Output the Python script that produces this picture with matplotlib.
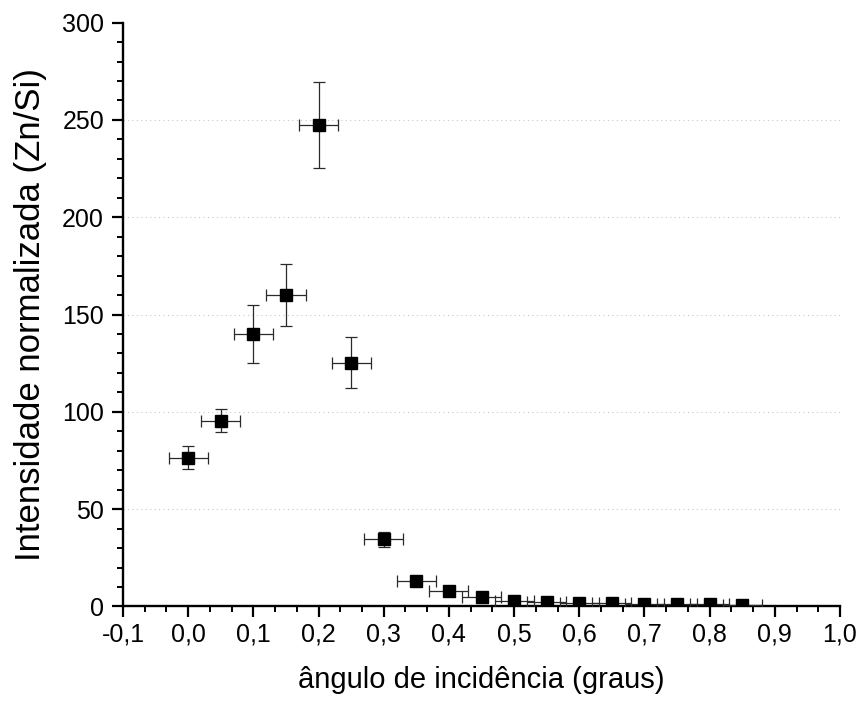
import matplotlib
matplotlib.use("Agg")
import matplotlib.pyplot as plt
import numpy as np
from matplotlib.ticker import MultipleLocator, AutoMinorLocator, FuncFormatter

plt.rcParams['font.family'] = ['Liberation Sans', 'DejaVu Sans']

# angle of incidence (degrees) and normalized Zn/Si intensity
angulo = [0.0, 0.05, 0.10, 0.15, 0.20, 0.25, 0.30, 0.35, 0.40, 0.45,
          0.50, 0.55, 0.60, 0.65, 0.70, 0.75, 0.80, 0.85]
intensidade = [76.5, 95.5, 140.0, 160.0, 247.5, 125.3, 34.5, 13.1, 8.0, 4.7,
               2.6, 2.1, 1.8, 1.6, 1.4, 1.3, 1.1, 0.9]
erro_y = [6.0, 6.0, 15.0, 16.0, 22.0, 13.0, 4.0, 1.3, 0.8, 0.5,
          0.3, 0.2, 0.2, 0.2, 0.1, 0.1, 0.1, 0.1]
erro_x = 0.03

fig = plt.figure(figsize=(8.64, 7.08), dpi=100)
ax = fig.add_axes([0.1424, 0.1434, 0.9722 - 0.1424, 0.968 - 0.1434])

ax.errorbar(angulo, intensidade, xerr=erro_x, yerr=erro_y, fmt='s',
            color='black', ecolor='#2a2a2a', elinewidth=0.9, capsize=4,
            capthick=0.9, markersize=8, zorder=3)

ax.set_xlim(-0.1, 1.0)
ax.set_ylim(0, 300)

ax.xaxis.set_major_locator(MultipleLocator(0.1))
ax.xaxis.set_minor_locator(AutoMinorLocator(3))
ax.yaxis.set_major_locator(MultipleLocator(50))
ax.yaxis.set_minor_locator(AutoMinorLocator(5))

ax.xaxis.set_major_formatter(FuncFormatter(lambda v, p: f"{v:.1f}".replace('.', ',').replace('-0,0', '0,0')))

for side in ('top', 'right'):
    ax.spines[side].set_visible(False)
for side in ('left', 'bottom'):
    ax.spines[side].set_linewidth(1.7)

ax.tick_params(which='major', direction='out', length=7.7, width=1.6, labelsize=18)
ax.tick_params(which='minor', direction='out', length=4, width=1.4)
ax.tick_params(axis='x', which='major', pad=4)
ax.tick_params(axis='y', which='major', pad=6)

for yv in range(50, 300, 50):
    ax.axhline(yv, color='#c8c8c8', linestyle=(0, (1, 3)), linewidth=0.8, zorder=0)

ax.set_xlabel('ângulo de incidência (graus)', fontsize=21, labelpad=14)
ax.set_ylabel('Intensidade normalizada (Zn/Si)', fontsize=25, labelpad=11)

fig.savefig('out.png', dpi=100)
